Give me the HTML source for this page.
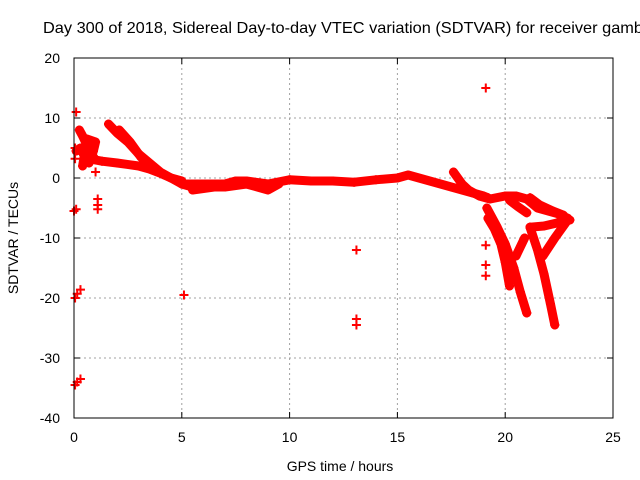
<!DOCTYPE html>
<html><head><meta charset="utf-8"><style>
body{margin:0;background:#fff}
svg{display:block;font-family:"Liberation Sans",sans-serif}
</style></head><body>
<svg id="chart" width="640" height="480" viewBox="0 0 640 480">
<rect width="640" height="480" fill="#fff"/>
<text x="43" y="33" font-size="16" textLength="600" lengthAdjust="spacingAndGlyphs">Day 300 of 2018, Sidereal Day-to-day VTEC variation (SDTVAR) for receiver gamb</text>
<g id="grid"></g>
<g id="ticks"></g>
<g id="marks"></g>
<rect x="74" y="58" width="539" height="360" fill="none" stroke="#000" stroke-width="1"/>
<text transform="translate(18,238) rotate(-90)" text-anchor="middle" font-size="14">SDTVAR / TECUs</text>
<text x="340" y="471" text-anchor="middle" font-size="14">GPS time / hours</text>
</svg>
<script>
const xTicks=[0,5,10,15,20,25];
const yTicks=[20,10,0,-10,-20,-30,-40];
const arcEarly=[[0.25,8],[0.4,7],[0.6,5.5],[0.8,4],[1.0,3],[1.3,2.8],[2,2.5],[3,2],[3.5,1.5],[4,0.8],[4.5,0],[5,-1],[5.5,-1.5],[6,-1.5]];
const arcEarlyBlob=[[0.1,4.5],[0.3,5],[0.5,3.5],[0.7,2.5],[0.9,4.5],[1.0,6],[0.6,6.5],[0.4,2]];
const arcB=[[1.6,9],[2,7.5],[2.5,6],[3,4],[3.5,2.5],[4,1],[4.5,0],[5,-0.5]];
const arcC=[[2.1,8],[2.6,6],[3.1,3.5],[3.6,1.8],[4.2,0.5]];
const arcMain=[[5,-1],[6,-1],[7,-1],[7.5,-0.5],[8,-0.5],[9,-1],[10,-0.3],[11,-0.5],[12,-0.5],[13,-0.7],[14,-0.3],[15,0],[15.5,0.5],[16,0],[17,-1],[17.5,-1.5],[18,-2],[18.5,-2.5],[19,-3],[19.2,-3.3]];
const arcLow=[[5.5,-2],[6.5,-1.5],[7,-1.5],[8,-1],[9,-2],[9.5,-1]];
const arcLate=[[17.6,1],[18,-1],[18.3,-2],[18.8,-3],[19.3,-3.5],[20,-3],[20.5,-3],[21,-3.5],[21.5,-5],[22,-5.5],[22.5,-6],[23,-7]];
const arcDrop1=[[19.2,-6.7],[19.5,-8.5],[19.8,-11],[20,-14],[20.2,-18]];
const arcDrop2=[[19.15,-5],[19.6,-8],[20,-11],[20.4,-15],[20.7,-19],[21,-22.5]];
const arcDrop3=[[21.15,-8.2],[21.5,-12],[21.8,-16],[22.1,-21],[22.3,-24.5]];
const arcV1=[[20.9,-10],[20.5,-13]];
const arcV2=[[22.9,-7],[22.3,-10],[21.75,-13]];
const arcTop1=[[20.2,-3.7],[20.6,-4.8],[21,-5.8]];
const arcTop2=[[21.15,-3.3],[21.6,-4.5],[22.2,-5.5],[22.7,-6.2],[22.9,-7]];
const arcBand=[[21.15,-8.2],[21.8,-8],[22.4,-7.5],[22.9,-6.7]];
const arcs=[arcEarly,arcEarlyBlob,arcB,arcC,arcMain,arcLow,arcLate,arcDrop1,arcDrop2,arcDrop3,arcV1,arcV2,arcTop1,arcTop2,arcBand];
const outliers=[[0.1,11],[0.05,5],[0.05,3.2],[0.0,-5.5],[0.1,-5.2],[1.1,-3.5],[1.1,-4.5],[1.1,-5.2],[1.0,1],[0.05,-20],[0.15,-19.3],[0.3,-18.6],[0.05,-34.5],[0.15,-34],[0.3,-33.5],[5.1,-19.5],[13.1,-12],[13.1,-23.5],[13.1,-24.5],[19.1,15],[19.1,-11.2],[19.1,-14.5],[19.1,-16.3]];
const NS='http://www.w3.org/2000/svg';
const X=h=>74+h*539/25, Y=v=>58+(20-v)*6;
const grid=document.getElementById('grid'),ticks=document.getElementById('ticks'),marks=document.getElementById('marks');
function mk(t,a,p){const e=document.createElementNS(NS,t);for(const k in a)e.setAttribute(k,a[k]);p.appendChild(e);return e;}
xTicks.forEach(t=>{
 if(t>0&&t<25){const g=mk('line',{x1:X(t),x2:X(t),y1:58,y2:418,stroke:'#a0a0a0','stroke-dasharray':'2,3'},grid);
 
 }
 mk('line',{x1:X(t),x2:X(t),y1:418,y2:412,stroke:'#000'},ticks);
 mk('line',{x1:X(t),x2:X(t),y1:58,y2:64,stroke:'#000'},ticks);
 const l=mk('text',{x:X(t),y:442,'text-anchor':'middle','font-size':14},ticks);l.textContent=t;
 
 
});
yTicks.forEach(t=>{
 if(t<20&&t>-40){const g=mk('line',{x1:74,x2:613,y1:Y(t),y2:Y(t),stroke:'#a0a0a0','stroke-dasharray':'2,3'},grid);
 
 }
 mk('line',{x1:74,x2:80,y1:Y(t),y2:Y(t),stroke:'#000'},ticks);
 mk('line',{x1:613,x2:607,y1:Y(t),y2:Y(t),stroke:'#000'},ticks);
 const l=mk('text',{x:60,y:Y(t)+5,'text-anchor':'end','font-size':14},ticks);l.textContent=t;
 
 
});
function plus(h,v){const x=X(h),y=Y(v);
 const p=mk('path',{d:`M${x-4.5} ${y}H${x+4.5}M${x} ${y-4.5}V${y+4.5}`,stroke:'#f00','stroke-width':2},marks);
 
 }
arcs.forEach(a=>{
 const p=mk('polyline',{points:a.map(d=>X(d[0])+','+Y(d[1])).join(' '),fill:'none',stroke:'#f00','stroke-width':9,'stroke-linejoin':'round','stroke-linecap':'round'},marks);
 
 
 a.forEach(d=>plus(d[0],d[1]));
});
outliers.forEach(d=>plus(d[0],d[1]));
</script>
</body></html>
